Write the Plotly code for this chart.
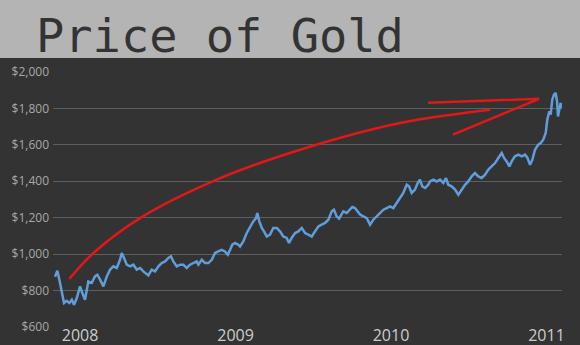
import plotly.graph_objects as go

# Gold price series (fractional year, USD/oz)
years = [
    2007.839, 2007.854, 2007.867, 2007.882, 2007.897, 2007.914, 2007.931, 2007.947, 2007.961, 2007.979,
    2008.000, 2008.011, 2008.032, 2008.053, 2008.075, 2008.096, 2008.111, 2008.129, 2008.150, 2008.172,
    2008.193, 2008.214, 2008.236, 2008.257, 2008.268, 2008.283, 2008.300, 2008.322, 2008.343, 2008.365,
    2008.386, 2008.407, 2008.418, 2008.439, 2008.461, 2008.482, 2008.504, 2008.525, 2008.547, 2008.568,
    2008.585, 2008.600, 2008.622, 2008.643, 2008.664, 2008.686, 2008.707, 2008.729, 2008.750, 2008.761,
    2008.783, 2008.804, 2008.825, 2008.847, 2008.868, 2008.889, 2008.911, 2008.932, 2008.950, 2008.965,
    2008.979, 2008.997, 2009.018, 2009.029, 2009.050, 2009.072, 2009.093, 2009.114, 2009.132, 2009.140,
    2009.153, 2009.169, 2009.183, 2009.201, 2009.222, 2009.243, 2009.265, 2009.286, 2009.307, 2009.329,
    2009.344, 2009.361, 2009.383, 2009.404, 2009.426, 2009.447, 2009.468, 2009.490, 2009.511, 2009.533,
    2009.554, 2009.576, 2009.597, 2009.619, 2009.633, 2009.651, 2009.666, 2009.693, 2009.715, 2009.736,
    2009.751, 2009.768, 2009.786, 2009.801, 2009.822, 2009.844, 2009.865, 2009.886, 2009.908, 2009.929,
    2009.951, 2009.972, 2009.994, 2010.015, 2010.037, 2010.058, 2010.079, 2010.101, 2010.116, 2010.133,
    2010.154, 2010.172, 2010.186, 2010.201, 2010.219, 2010.240, 2010.251, 2010.272, 2010.294, 2010.315,
    2010.336, 2010.354, 2010.368, 2010.390, 2010.412, 2010.433, 2010.455, 2010.476, 2010.497, 2010.519,
    2010.540, 2010.561, 2010.583, 2010.605, 2010.626, 2010.648, 2010.669, 2010.690, 2010.712, 2010.727,
    2010.744, 2010.761, 2010.776, 2010.797, 2010.819, 2010.841, 2010.862, 2010.877, 2010.894, 2010.909,
    2010.926, 2010.947, 2010.963, 2010.979, 2010.995, 2011.005, 2011.018, 2011.027, 2011.037, 2011.048,
    2011.059, 2011.068, 2011.074, 2011.082, 2011.091, 2011.098,
]
prices = [
    876, 909, 860, 795, 732, 744, 732, 750, 722, 759,
    823, 795, 750, 850, 842, 878, 887, 860, 823, 878,
    915, 933, 924, 969, 1006, 979, 942, 933, 942, 915,
    924, 905, 896, 883, 915, 905, 933, 951, 960, 979,
    988, 960, 933, 942, 942, 924, 942, 951, 960, 942,
    969, 951, 951, 969, 1006, 1015, 1024, 1015, 997, 1024,
    1052, 1061, 1052, 1042, 1070, 1116, 1152, 1180, 1198, 1226,
    1180, 1144, 1125, 1097, 1107, 1144, 1144, 1125, 1097, 1089,
    1061, 1089, 1116, 1125, 1144, 1116, 1107, 1097, 1125, 1152,
    1162, 1171, 1189, 1235, 1244, 1206, 1195, 1235, 1226, 1244,
    1259, 1253, 1235, 1217, 1207, 1198, 1162, 1189, 1207, 1226,
    1244, 1253, 1262, 1253, 1281, 1308, 1336, 1381, 1372, 1336,
    1354, 1391, 1409, 1372, 1363, 1381, 1399, 1409, 1399, 1409,
    1391, 1418, 1381, 1372, 1354, 1326, 1354, 1381, 1399, 1427,
    1445, 1427, 1418, 1436, 1464, 1482, 1500, 1528, 1555, 1528,
    1509, 1482, 1509, 1537, 1546, 1537, 1546, 1530, 1491, 1518,
    1573, 1601, 1610, 1628, 1665, 1738, 1784, 1766, 1848, 1875,
    1885, 1839, 1756, 1793, 1830, 1802,
]

# Hand-drawn red arrow (curve + head), in data units
arrow_curve_x = [2007.931, 2008.086, 2008.386, 2008.879, 2009.415, 2010.058, 2010.637]
arrow_curve_y = [864, 1006, 1198, 1409, 1573, 1720, 1793]
arrow_head_x = [2010.238, 2010.952, 2010.399]
arrow_head_y = [1831, 1853, 1656]

year_ticks = [2008, 2009, 2010, 2011]
year_labels = ["2008", "2009", "2010", "2011"]
price_ticks = [600, 800, 1000, 1200, 1400, 1600, 1800, 2000]
price_labels = ["$600", "$800", "$1,000", "$1,200", "$1,400", "$1,600", "$1,800", "$2,000"]

BG = "#333333"
fig = go.Figure()
fig.add_trace(go.Scatter(x=years, y=prices, mode="lines",
                         line=dict(color="#5f9edb", width=2.5), hoverinfo="skip"))
fig.add_trace(go.Scatter(x=arrow_curve_x, y=arrow_curve_y, mode="lines",
                         line=dict(color="#e01818", width=2.5, shape="spline", smoothing=1.0),
                         hoverinfo="skip"))
fig.add_trace(go.Scatter(x=arrow_head_x, y=arrow_head_y, mode="lines",
                         line=dict(color="#e01818", width=2.5), hoverinfo="skip"))

# Title bar
fig.add_shape(type="rect", xref="paper", yref="paper",
              x0=-0.11, x1=1.04, y0=1.0549, y1=1.30,
              fillcolor="#b4b4b4", line=dict(width=0), layer="below")

fig.update_layout(
    width=580, height=345,
    margin=dict(l=53, r=18, t=72, b=18, autoexpand=False),
    paper_bgcolor=BG, plot_bgcolor=BG,
    showlegend=False,
    title=dict(text="Price of Gold", x=36/580, xanchor="left", xref="container",
               y=0.896, yanchor="middle", yref="container",
               font=dict(family="DejaVu Sans Mono", size=47, color="#333333")),
    xaxis=dict(range=[2007.826, 2011.0997], tickvals=year_ticks, ticktext=year_labels,
               showgrid=False, zeroline=False, showline=False, ticks="", automargin=False,
               tickfont=dict(family="Open Sans", size=16, color="#cccccc"),
               ticklabelstandoff=-3),
    yaxis=dict(range=[600, 2000], tickvals=price_ticks, ticktext=price_labels,
               showgrid=True, gridcolor="#5e5e5e", gridwidth=1, automargin=False,
               zeroline=False, showline=False, ticks="",
               tickfont=dict(family="Open Sans", size=12, color="#a8a8a8"),
               ticklabelstandoff=3),
)

fig.write_html("out.html")
